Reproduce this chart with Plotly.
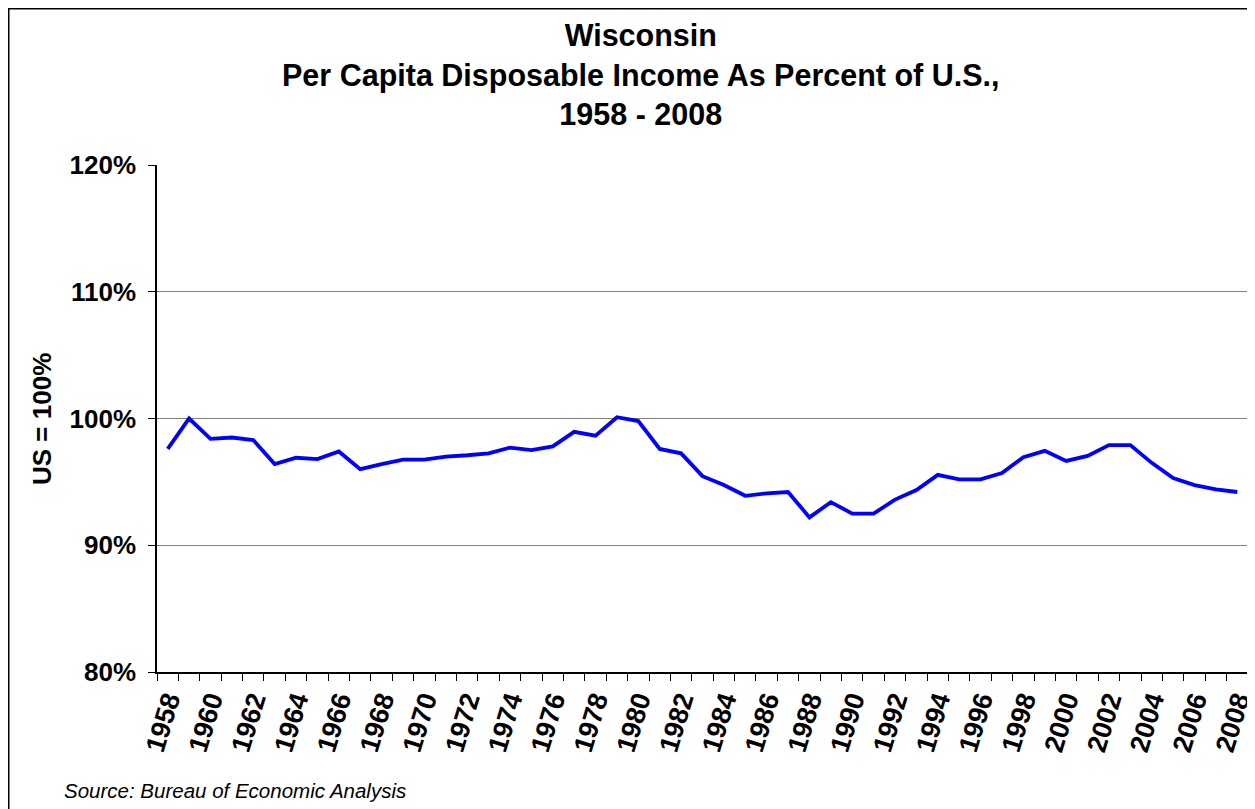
import plotly.graph_objects as go

years = list(range(1958, 2009))
pct_of_us = [
    97.6, 100.0, 98.4, 98.5, 98.3, 96.4, 96.9, 96.8, 97.4, 96.0,
    96.4, 96.75, 96.75, 97.0, 97.1, 97.25, 97.7, 97.5, 97.8, 98.95,
    98.65, 100.1, 99.8, 97.6, 97.25, 95.45, 94.75, 93.9, 94.1, 94.2,
    92.2, 93.4, 92.5, 92.5, 93.6, 94.35, 95.55, 95.2, 95.2, 95.7,
    96.95, 97.45, 96.65, 97.05, 97.9, 97.9, 96.5, 95.3, 94.75, 94.4,
    94.2,
]
tick_years = list(range(1958, 2009, 2))
tick_labels = [str(y) for y in tick_years]
y_ticks = [80, 90, 100, 110, 120]
y_tick_labels = ["80%", "90%", "100%", "110%", "120%"]

FONT = "Liberation Sans, Arial, sans-serif"

# plot area (figure pixels)
L, T, PW, PH = 149, 157, 1091, 507
W, H = 1255, 809


def px(x):
    return (x - L) / PW


def py(y):
    return (T + PH - y) / PH


fig = go.Figure()
fig.add_trace(go.Scatter(
    x=years, y=pct_of_us, mode="lines",
    line=dict(color="#0000FF", width=3.8),
    showlegend=False, hoverinfo="x+y",
))

fig.update_layout(
    width=W, height=H,
    margin=dict(l=L, r=W - L - PW, t=T, b=H - T - PH, autoexpand=False),
    paper_bgcolor="white", plot_bgcolor="white",
    font=dict(family=FONT, color="black"),
    xaxis=dict(
        automargin=False,
        range=[1957.5, 2008.5],
        tickmode="array", tickvals=tick_years, ticktext=tick_labels,
        tickangle=-73, ticks="", showgrid=False, zeroline=False,
        ticklabeloverflow="allow",
        showline=True, linecolor="black", linewidth=1.5,
        tickfont=dict(family=FONT, size=27, color="black", weight="bold"),
        minor=dict(tickmode="linear", tick0=1957.5, dtick=1, ticks="outside",
                   ticklen=7, tickcolor="black", tickwidth=1, showgrid=False),
    ),
    yaxis=dict(
        automargin=False,
        range=[80, 120],
        tickmode="array", tickvals=y_ticks, ticktext=y_tick_labels,
        ticks="outside", ticklen=7, tickcolor="black", tickwidth=1,
        ticklabelstandoff=7,
        showgrid=True, gridcolor="#808080", gridwidth=1,
        zeroline=False, showline=True, linecolor="black", linewidth=1.5,
        tickfont=dict(family=FONT, size=26, color="black", weight="bold"),
    ),
    annotations=[
        dict(text="Wisconsin<br>Per Capita Disposable Income As Percent of U.S.,<br>1958 - 2008",
             showarrow=False, align="center",
             xref="paper", yref="paper", x=px(633), y=py(67),
             xanchor="center", yanchor="middle",
             font=dict(family=FONT, size=30.5, color="black", weight="bold")),
        dict(text="US = 100%", textangle=-90, showarrow=False,
             xref="paper", yref="paper", x=px(34), y=py(411),
             xanchor="center", yanchor="middle",
             font=dict(family=FONT, size=26, color="black", weight="bold")),
        dict(text="Source: Bureau of Economic Analysis", showarrow=False,
             xref="paper", yref="paper", x=px(54), y=py(782),
             xanchor="left", yanchor="middle",
             font=dict(family=FONT, size=20.5, color="black", style="italic")),
    ],
    shapes=[
        dict(type="rect", xref="paper", yref="paper", layer="above",
             x0=px(0.75), x1=px(W - 0.75), y0=py(H - 0.75), y1=py(0.75),
             line=dict(color="black", width=1.5), fillcolor="rgba(0,0,0,0)"),
    ],
)

fig.write_html("out.html")
